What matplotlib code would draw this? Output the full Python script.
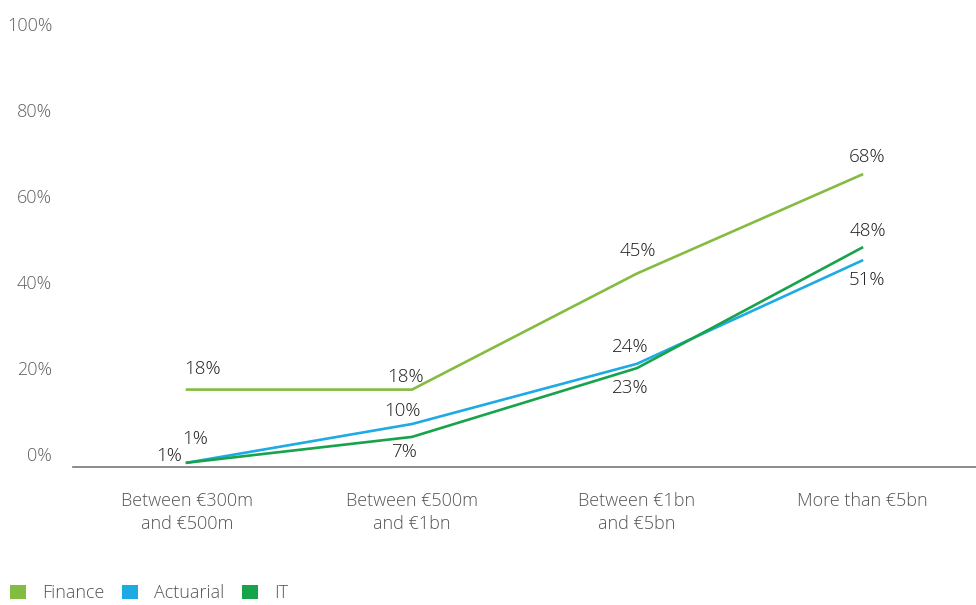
import numpy as np
import matplotlib.pyplot as plt
import matplotlib.transforms as mtransforms
from matplotlib.patches import Patch

plt.rcParams['font.family'] = ['Open Sans', 'DejaVu Sans']
plt.rcParams['font.weight'] = 'light'

categories = ["Between €300m\nand €500m", "Between €500m\nand €1bn",
              "Between €1bn\nand €5bn", "More than €5bn"]
finance   = [18, 18, 45, 68]
actuarial = [1, 10, 24, 48]
it        = [1, 7, 23, 51]

# value labels as printed on the chart
finance_lbl   = ["18%", "18%", "45%", "68%"]
actuarial_lbl = ["1%", "10%", "24%", "51%"]
it_lbl        = ["1%", "7%", "23%", "48%"]

yticks = [0, 20, 40, 60, 80, 100]

C_FIN = "#84bc41"
C_ACT = "#1eaae2"
C_IT  = "#17a34a"
TXT   = "#1e1e1e"
GREY  = "#555555"

fig = plt.figure(figsize=(9.76, 6.05), dpi=100)
ax = fig.add_axes([73/976, (605-467)/605, 1 - 73/976, 430/605])

x = np.arange(len(categories))
ax.plot(x, finance, color=C_FIN, lw=1.9, solid_joinstyle="miter")
ax.plot(x, actuarial, color=C_ACT, lw=1.9, solid_joinstyle="miter")
ax.plot(x, it, color=C_IT, lw=1.9, solid_joinstyle="miter")

# label offsets in points (dx, dy)
fin_off = [(11, 15), (-5, 9), (1, 16), (4, 13)]
act_off = [(6, 17), (-7, 9), (-5, 12), (4, -14)]
it_off  = [(-13, 5), (-6, -11), (-5, -14), (4, 12)]
for vals, lbls, offs in [(finance, finance_lbl, fin_off),
                         (actuarial, actuarial_lbl, act_off),
                         (it, it_lbl, it_off)]:
    for xi, v, t, (dx, dy) in zip(x, vals, lbls, offs):
        ax.annotate(t, (xi, v), xytext=(dx, dy), textcoords="offset points",
                    ha="center", va="center", fontsize=13.5, color=TXT)

ax.set_xlim(-0.507, 3.507)
ax.set_ylim(0, 100)
ax.set_xticks(x)
ax.set_xticklabels(categories, fontsize=13, color=GREY, linespacing=1.35)
ax.set_yticks(yticks)
ax.set_yticklabels([f"{v}%" for v in yticks], fontsize=13, color="#606060")
ax.tick_params(axis="both", length=0)
ax.tick_params(axis="x", pad=18)
ax.tick_params(axis="y", pad=15)
shift = mtransforms.ScaledTranslation(0, 0.13, fig.dpi_scale_trans)
for lab in ax.get_yticklabels():
    lab.set_transform(lab.get_transform() + shift)

for s in ["top", "right", "left"]:
    ax.spines[s].set_visible(False)
ax.spines["bottom"].set_color("#777777")
ax.spines["bottom"].set_linewidth(1.2)

handles = [Patch(facecolor=C_FIN, label="Finance"),
           Patch(facecolor=C_ACT, label="Actuarial"),
           Patch(facecolor=C_IT, label="IT")]
leg = fig.legend(handles=handles, loc="lower left", bbox_to_anchor=(-0.006, -0.022),
                 ncol=3, frameon=False, fontsize=13, handlelength=0.85,
                 handleheight=0.85, handletextpad=0.9, columnspacing=1.0)
for t in leg.get_texts():
    t.set_color(GREY)

fig.savefig("out.png", dpi=100)
